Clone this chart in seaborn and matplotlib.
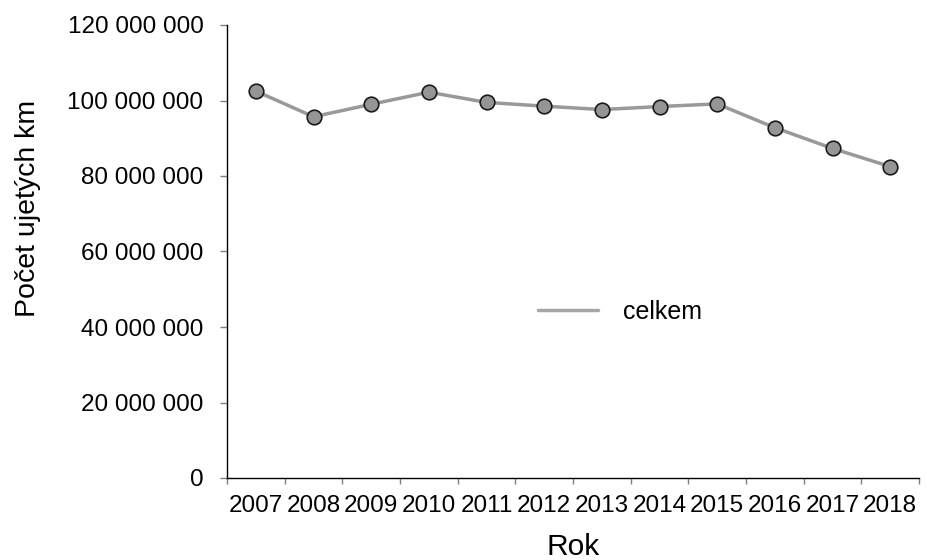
import matplotlib
matplotlib.use("Agg")
import matplotlib.pyplot as plt
import matplotlib.ticker as mticker
from matplotlib.lines import Line2D
import seaborn as sns
import pandas as pd

years = ["2007", "2008", "2009", "2010", "2011", "2012",
         "2013", "2014", "2015", "2016", "2017", "2018"]
celkem = [102_500_000, 95_700_000, 99_000_000, 102_200_000, 99_500_000, 98_500_000,
          97_600_000, 98_400_000, 99_100_000, 92_800_000, 87_300_000, 82_500_000]
series_name = "celkem"
x_label = "Rok"
y_label = "Počet ujetých km"
y_ticks = [0, 20_000_000, 40_000_000, 60_000_000, 80_000_000, 100_000_000, 120_000_000]

sns.set_theme(style="white")
plt.rcParams['font.family'] = ['Liberation Sans', 'DejaVu Sans']
plt.rcParams['text.color'] = 'black'
plt.rcParams['axes.labelcolor'] = 'black'

df = pd.DataFrame({"Rok": years, "km": celkem})

fig = plt.figure(figsize=(9.27, 5.6), dpi=100)
ax = fig.add_axes([227/927, 1-478/560, (919-227)/927, (478-25)/560])

sns.lineplot(data=df, x="Rok", y="km", ax=ax, color="#999999", linewidth=2.5,
             marker="o", markersize=10.5, markerfacecolor="#959595",
             markeredgecolor="#1a1a1a", markeredgewidth=1.2, sort=False)

ax.set_xlim(-0.5, len(years) - 0.5)
ax.set_ylim(0, 120_000_000)
ax.set_yticks(y_ticks)
ax.yaxis.set_major_formatter(mticker.FuncFormatter(lambda v, p: f"{int(v):,}".replace(",", " ")))

ax.set_xticks(range(len(years)))
ax.set_xticklabels(years)
ax.set_xticks([i - 0.5 for i in range(len(years) + 1)], minor=True)
ax.tick_params(axis="x", which="both", bottom=True)
ax.tick_params(axis="y", which="both", left=True)
ax.tick_params(axis="x", which="major", length=0, pad=12.5, labelsize=17.5, labelcolor="black")
ax.tick_params(axis="x", which="minor", length=4.5, width=1, color="#808080", direction="out")
ax.tick_params(axis="y", which="major", length=5, width=1, color="#808080", direction="out",
               pad=12, labelsize=17.5, labelcolor="black")

for s in ["top", "right"]:
    ax.spines[s].set_visible(False)
for s in ["left", "bottom"]:
    ax.spines[s].set_color("black")
    ax.spines[s].set_linewidth(1.0)

ax.set_xlabel(x_label, fontsize=21.5, color="black")
ax.set_ylabel(y_label, fontsize=20.5, color="black")
ax.xaxis.set_label_coords(0.5, (478 - 555) / 453)
ax.yaxis.set_label_coords((41 - 227) / 692, (478 - 208) / 453)
ax.xaxis.label.set_va("baseline")

handle = Line2D([], [], color="#a6a6a6", linewidth=2.5)
ax.legend([handle], [series_name], loc="center", bbox_to_anchor=((620 - 227) / 692, (478 - 312) / 453),
          frameon=False, fontsize=18, handlelength=2.4, handletextpad=1.0)

ax.grid(False)
fig.savefig("out.png", dpi=100)
